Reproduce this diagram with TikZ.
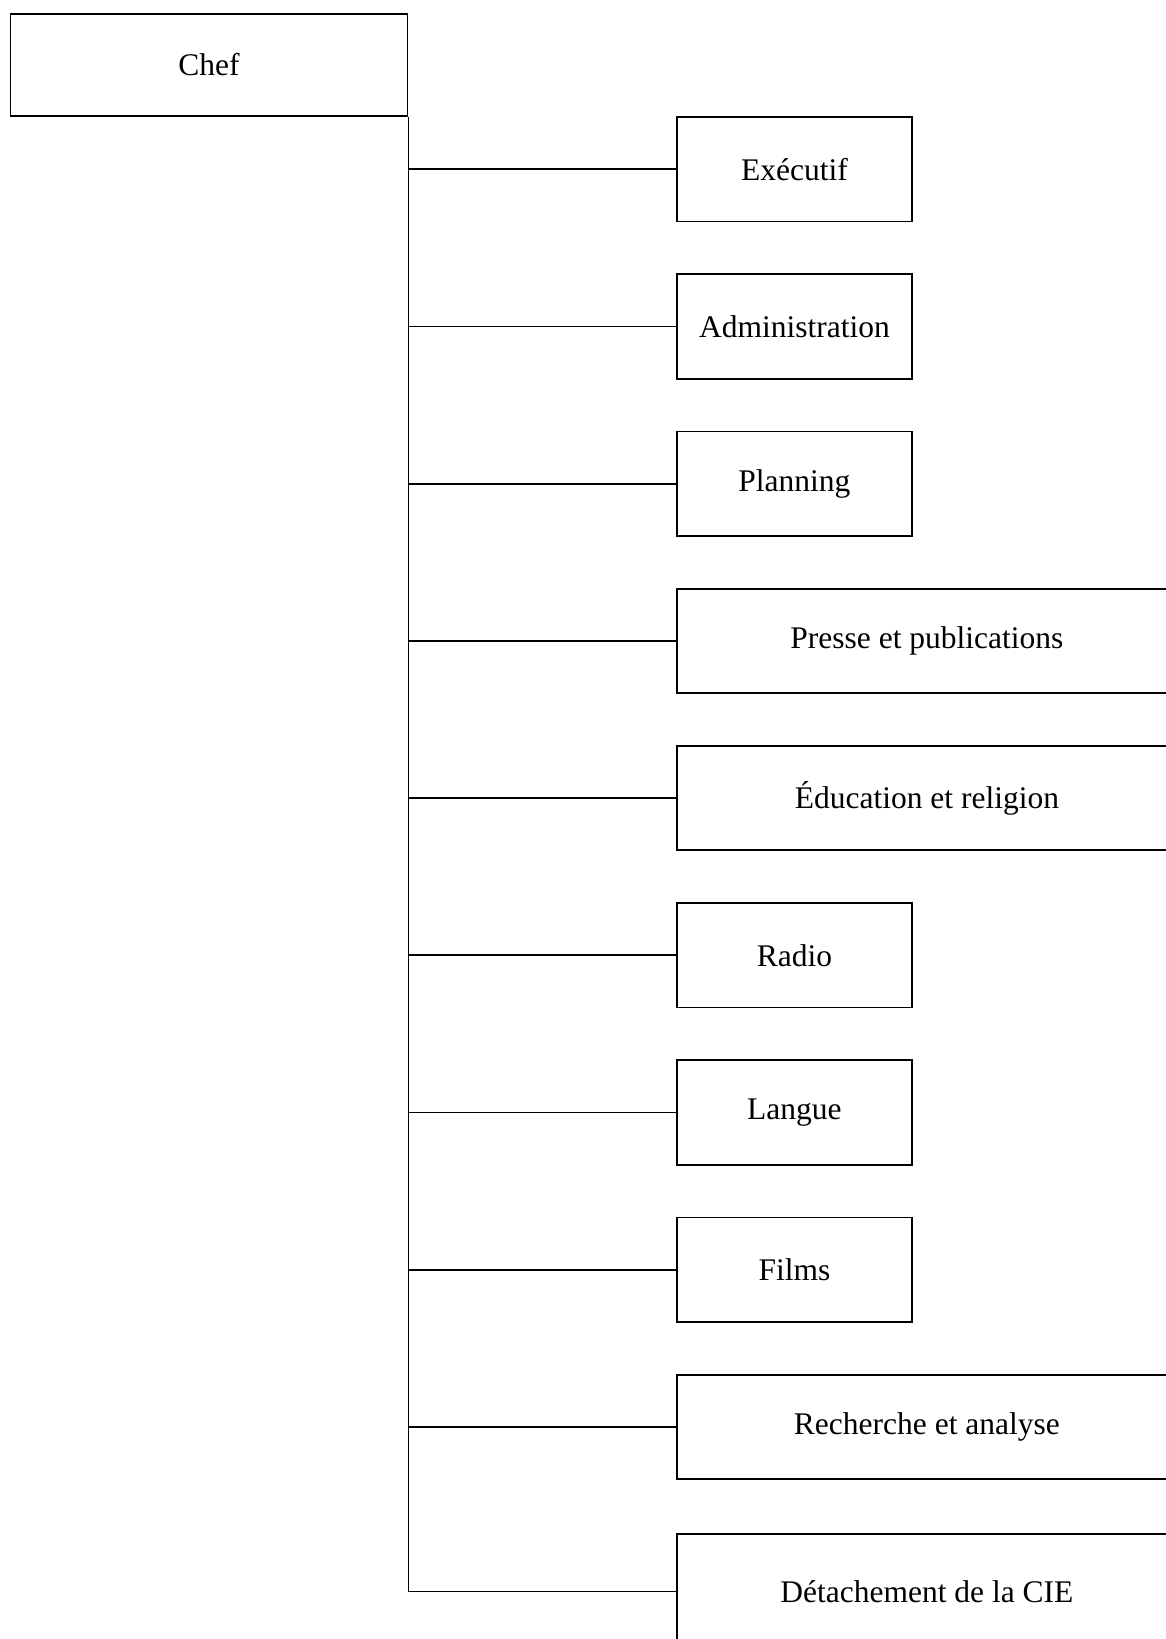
\documentclass[tikz,border=0pt]{standalone}
\usepackage{fontspec}
\setmainfont{Liberation Serif}
\usetikzlibrary{positioning}
\tikzset{
  unitbox/.style={draw, line width=1.8pt, inner sep=0pt, minimum height=104.5pt,
    font=\fontsize{31.5}{38}\selectfont},
  narrow/.style={minimum width=235pt},
  wide/.style={minimum width=500pt},
  branch/.style={line width=1.8pt},
}
\begin{document}
\begin{tikzpicture}[x=1pt, y=-1pt]
  \useasboundingbox (0,0) rectangle (1165,1639);
  \pgfmathsetmacro{\rowstep}{157.2}
  \node[unitbox, minimum width=397pt, minimum height=102.5pt] (chef) at (209,65) {Chef};
  \foreach \name/\txt/\kind [count=\i from 0] in {
      exec/Exécutif/narrow, admin/Administration/narrow, plan/Planning/narrow,
      press/Presse et publications/wide, edu/Éducation et religion/wide,
      radio/Radio/narrow, lang/Langue/narrow, films/Films/narrow,
      research/Recherche et analyse/wide}
  {
    \node[unitbox, \kind, anchor=west] (\name) at (676,169.3+\rowstep*\i) {\txt};
    \draw[branch] (chef.south east |- \name.west) -- (\name.west);
  }
  % last box runs off the page
  \node[unitbox, wide, minimum height=115pt, anchor=north west] (cie) at (676,1533) {Détachement de la CIE};
  \draw[branch] (chef.south east) |- (cie.west);
\end{tikzpicture}
\end{document}
